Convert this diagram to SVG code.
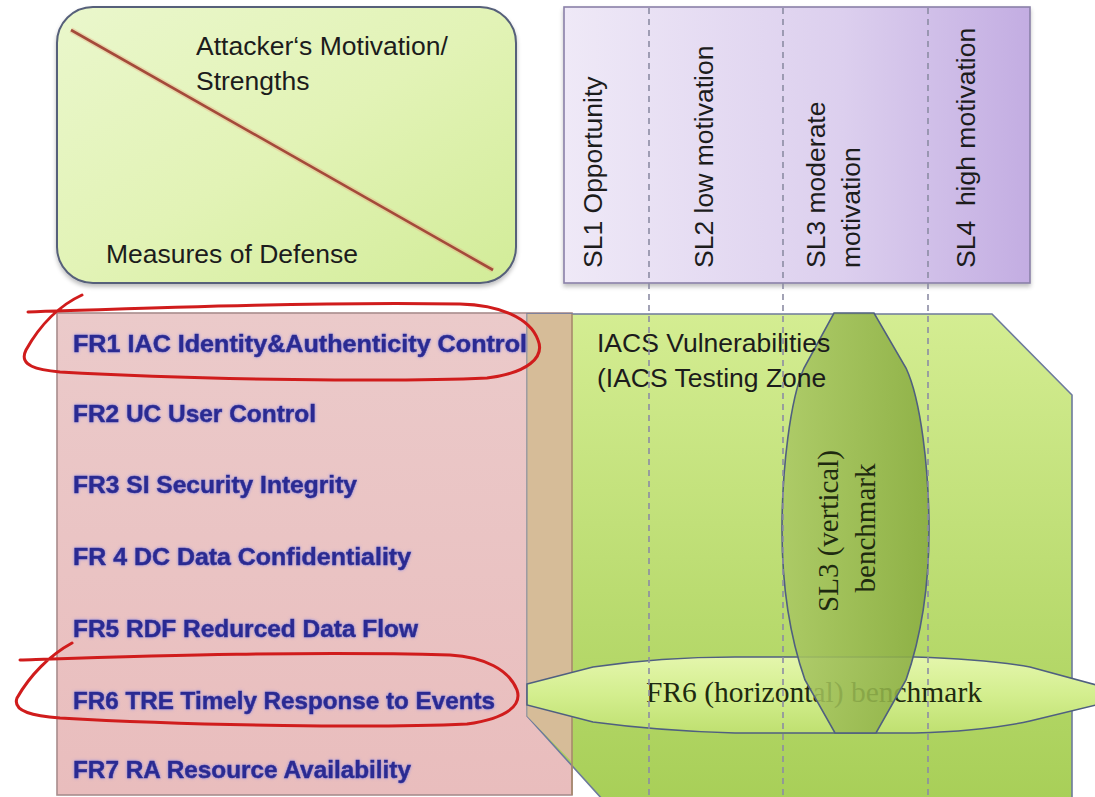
<svg xmlns="http://www.w3.org/2000/svg" width="1095" height="797" viewBox="0 0 1095 797">
  <defs>
    <linearGradient id="gHead" x1="0" y1="0" x2="1" y2="1">
      <stop offset="0" stop-color="#eaf7cc"/>
      <stop offset="0.5" stop-color="#e2f3b6"/>
      <stop offset="1" stop-color="#d2ec98"/>
    </linearGradient>
    <linearGradient id="gLevels" x1="0" y1="0" x2="1" y2="0">
      <stop offset="0" stop-color="#efe9f7"/>
      <stop offset="0.6" stop-color="#dccfee"/>
      <stop offset="1" stop-color="#c3ade2"/>
    </linearGradient>
    <linearGradient id="gZone" x1="0" y1="0" x2="0" y2="1">
      <stop offset="0" stop-color="#d4ed92"/>
      <stop offset="1" stop-color="#a8cf58"/>
    </linearGradient>
    <linearGradient id="gPink" x1="0" y1="0" x2="0" y2="1">
      <stop offset="0" stop-color="#ebcaca"/>
      <stop offset="1" stop-color="#e9bdbd"/>
    </linearGradient>
    <linearGradient id="gVert" x1="0" y1="0" x2="1" y2="0">
      <stop offset="0" stop-color="#aac864"/>
      <stop offset="1" stop-color="#88ab40"/>
    </linearGradient>
    <linearGradient id="gHoriz" x1="0" y1="0" x2="0" y2="1">
      <stop offset="0" stop-color="#e4f6ac"/>
      <stop offset="0.5" stop-color="#d3ee8e"/>
      <stop offset="1" stop-color="#bfe070"/>
    </linearGradient>
    <filter id="glow" x="-5%" y="-40%" width="110%" height="180%">
      <feGaussianBlur in="SourceAlpha" stdDeviation="1.6" result="b"/>
      <feFlood flood-color="#7c7ce6" flood-opacity="0.85"/>
      <feComposite in2="b" operator="in" result="halo"/>
      <feMerge>
        <feMergeNode in="halo"/>
        <feMergeNode in="SourceGraphic"/>
      </feMerge>
    </filter>
    <filter id="shadow" x="-5%" y="-5%" width="110%" height="115%">
      <feGaussianBlur in="SourceAlpha" stdDeviation="2"/>
      <feOffset dx="0" dy="3" result="o"/>
      <feFlood flood-color="#000" flood-opacity="0.25"/>
      <feComposite in2="o" operator="in" result="s"/>
      <feMerge>
        <feMergeNode in="s"/>
        <feMergeNode in="SourceGraphic"/>
      </feMerge>
    </filter>
  </defs>
  <style>
    .lbl { font-family: "Liberation Sans", Arial, sans-serif; font-size: 26.5px; fill: #1c1c1c; }
    .fr { font-family: "Liberation Sans", Arial, sans-serif; font-weight: bold; font-size: 24.5px; fill: #2c2c92; stroke: #2c2c92; stroke-width: 0.5; }
    .serif { font-family: "Liberation Serif", "Times New Roman", serif; font-size: 29px; fill: #1e2a10; }
    .loop { fill: none; stroke: #d01c1c; stroke-width: 3; stroke-linecap: round; stroke-linejoin: round; }
    .dash { stroke: #8c8ca4; stroke-width: 1.6; stroke-dasharray: 6 5; fill: none; }
  </style>

  <rect width="1095" height="797" fill="#ffffff"/>

  <!-- header: attacker motivation vs. defense -->
  <g id="header">
    <rect x="57" y="7" width="459" height="276" rx="36" ry="36" fill="url(#gHead)" stroke="#56607a" stroke-width="2" filter="url(#shadow)"/>
    <line x1="71" y1="30" x2="493" y2="270" stroke="#e8a27c" stroke-width="6" stroke-opacity="0.35"/>
    <line x1="71" y1="30" x2="493" y2="270" stroke="#a44a3a" stroke-width="2.6"/>
    <text class="lbl" x="196" y="55">Attacker‘s Motivation/</text>
    <text class="lbl" x="196" y="90">Strengths</text>
    <text class="lbl" x="106" y="263">Measures of Defense</text>
  </g>

  <!-- security level columns -->
  <g id="levels">
    <rect x="564" y="7" width="466" height="276" fill="url(#gLevels)" stroke="#8a80a8" stroke-width="1.6" filter="url(#shadow)"/>
    <text class="lbl" transform="translate(602,268) rotate(-90)">SL1 Opportunity</text>
    <text class="lbl" transform="translate(713,268) rotate(-90)">SL2 low motivation</text>
    <text class="lbl" transform="translate(825,268) rotate(-90)">SL3 moderate</text>
    <text class="lbl" transform="translate(860,268) rotate(-90)">motivation</text>
    <text class="lbl" transform="translate(975,268) rotate(-90)" xml:space="preserve">SL4  high motivation</text>
  </g>

  <!-- foundational requirements -->
  <g id="requirements">
    <rect x="57" y="313" width="515" height="482" fill="url(#gPink)" stroke="#a88c8c" stroke-width="1.6"/>
  </g>

  <!-- IACS testing zone -->
  <g id="zone">
    <polygon points="527,314 992,314 1072,395 1072,800 603,800 527,716" fill="url(#gZone)" stroke="#6d7a9c" stroke-width="1.6"/>
    <polygon points="527,314 572,314 572,762 527,716" fill="#d6bc98"/>
    <line x1="527" y1="314" x2="527" y2="716" stroke="#a8a4a0" stroke-width="1.4"/>
    <line x1="572" y1="314" x2="572" y2="795" stroke="#a88a6c" stroke-width="1.6"/>
  </g>

  <g id="fr-labels" filter="url(#glow)">
    <text class="fr" x="73" y="352" textLength="454" lengthAdjust="spacingAndGlyphs">FR1 IAC Identity&amp;Authenticity Control</text>
    <text class="fr" x="73" y="422" textLength="243" lengthAdjust="spacingAndGlyphs">FR2 UC User Control</text>
    <text class="fr" x="73" y="493" textLength="284" lengthAdjust="spacingAndGlyphs">FR3 SI Security Integrity</text>
    <text class="fr" x="73" y="565" textLength="338" lengthAdjust="spacingAndGlyphs">FR 4 DC Data Confidentiality</text>
    <text class="fr" x="73" y="637" textLength="345" lengthAdjust="spacingAndGlyphs">FR5 RDF Redurced Data Flow</text>
    <text class="fr" x="73" y="709" textLength="422" lengthAdjust="spacingAndGlyphs">FR6 TRE Timely Response to Events</text>
    <text class="fr" x="73" y="778" textLength="338" lengthAdjust="spacingAndGlyphs">FR7 RA Resource Availability</text>
  </g>

  <!-- FR6 horizontal benchmark -->
  <g id="fr6-benchmark">
    <path d="M527,684 L593,667 Q660,657 735,657 L915,657 Q985,659 1030,667 L1100,686 L1100,704 L1030,721 Q985,731 915,733 L735,733 Q660,731 593,722 L527,705 Z" fill="url(#gHoriz)" stroke="#4f5f80" stroke-width="1.6"/>
    <text class="serif" x="646" y="702" textLength="336" lengthAdjust="spacingAndGlyphs">FR6 (horizontal) benchmark</text>
  </g>

  <!-- SL3 vertical benchmark -->
  <g id="sl3-benchmark">
    <path d="M834,313 L874,313 L906,368 C921,400 929,470 929,530 C929,590 920,640 906,680 L876,733 L835,733 L805,680 C791,640 782,590 782,530 C782,470 790,400 804,368 Z" fill="url(#gVert)" fill-opacity="0.88" stroke="#4f5f80" stroke-width="1.6"/>
    <text class="serif" text-anchor="middle" transform="translate(838,531) rotate(-90)">SL3 (vertical)</text>
    <text class="serif" text-anchor="middle" transform="translate(875,528) rotate(-90)">benchmark</text>
  </g>

  <!-- zone caption sits above the vertical benchmark -->
  <g id="zone-caption">
    <text class="lbl" x="597" y="352">IACS Vulnerabilities</text>
    <text class="lbl" x="597" y="387">(IACS Testing Zone</text>
  </g>

  <!-- column separators -->
  <g id="separators">
    <line class="dash" x1="649" y1="8" x2="649" y2="797"/>
    <line class="dash" x1="783" y1="8" x2="783" y2="797"/>
    <line class="dash" x1="928" y1="8" x2="928" y2="797"/>
  </g>

  <!-- hand-drawn highlights -->
  <g id="highlights">
    <path class="loop" d="M82,295 C60,305 40,325 26,350 C18,366 38,370 60,372 C200,380 400,382 487,378 C528,373 545,357 538,340 C530,318 500,305 460,304 C300,302 150,308 28,312"/>
    <path class="loop" d="M72,643 C50,655 30,675 17,698 C12,712 35,716 60,718 C200,726 380,728 467,724 C508,718 522,705 517,690 C509,670 485,657 450,655 C300,651 150,656 20,660"/>
  </g>
</svg>
